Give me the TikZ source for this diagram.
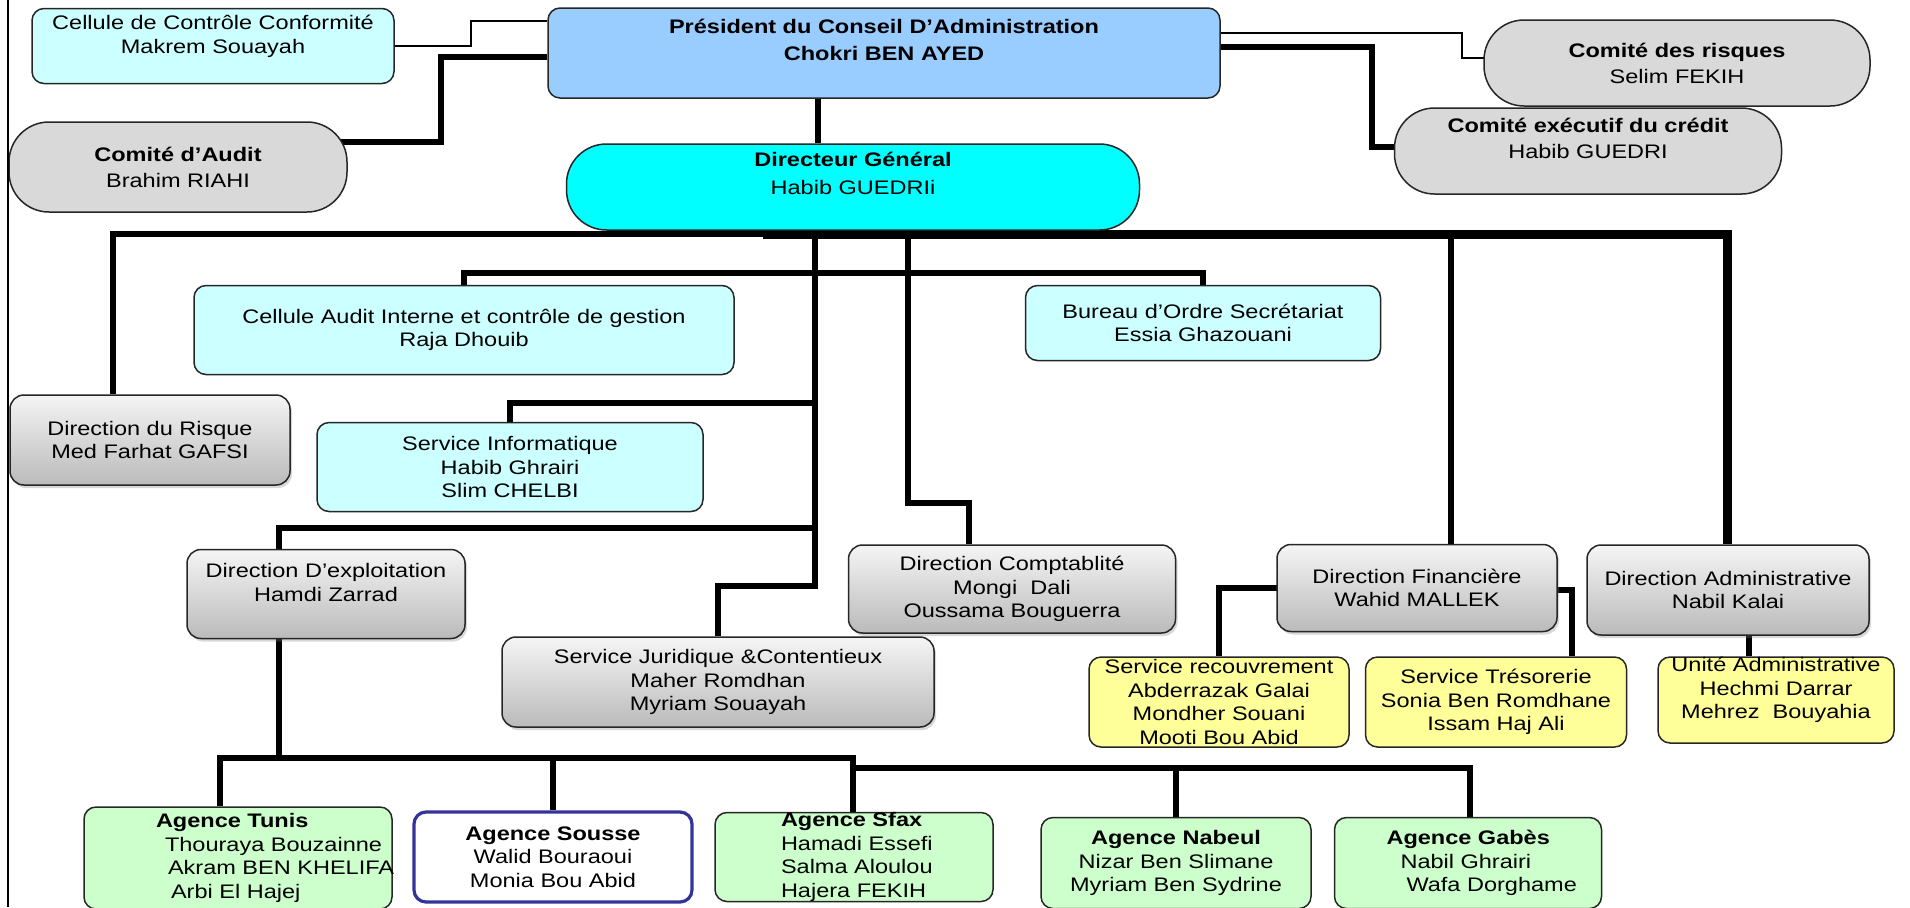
\documentclass[tikz,border=0pt]{standalone}
\usepackage{fontspec}
\setmainfont{Liberation Sans}[FakeStretch=1.2]
\usepackage{tikz}
\usetikzlibrary{shadows}
\definecolor{celluleblue}{HTML}{CCFFFF}
\definecolor{presblue}{HTML}{99CCFF}
\definecolor{dgcyan}{HTML}{00FFFF}
\definecolor{comitegray}{HTML}{D9D9D9}
\definecolor{serviceyellow}{HTML}{FFFF99}
\definecolor{agencegreen}{HTML}{CCFFCC}
\definecolor{sousseblue}{HTML}{333399}
\newlength{\px}
\setlength{\px}{0.5pt}
\pgfdeclarelayer{background}
\pgfsetlayers{background,main}
\tikzstyle{boxstyle}=[draw=black!85, line width=0.75pt, rounded corners=6pt, align=center, inner sep=0pt, font=\fontsize{9.8}{11.75}\selectfont]
\tikzstyle{cellule}=[boxstyle, fill=celluleblue]
\tikzstyle{comite}=[boxstyle, fill=comitegray, rounded corners=20pt, font=\fontsize{9.8}{13}\selectfont]
\tikzstyle{direction}=[boxstyle, rounded corners=7pt, top color=black!4, bottom color=black!27, drop shadow={opacity=0.3, shadow xshift=1pt, shadow yshift=-1.5pt}]
\tikzstyle{service}=[boxstyle, fill=serviceyellow]
\tikzstyle{agence}=[boxstyle, fill=agencegreen]
\tikzstyle{wirestyle}=[draw, line width=3pt]
\tikzstyle{heavywire}=[draw, line width=4.5pt]
\tikzstyle{thinwire}=[draw, line width=0.8pt]
\newcommand{\orgbox}[6]{\node [#2, minimum width=#4\px, minimum height=#5\px] (#1) at (#3) {#6};}
\newcommand{\indline}[2]{\hspace*{#1\px}\mbox{#2}}

\begin{document}
\begin{tikzpicture}[x=0.5pt, y=-0.5pt]
\useasboundingbox (0,0) rectangle (1910,907);
% top: president and committees
\orgbox{ccc}{cellule}{213,46}{362}{75}{Cellule de Contrôle Conformité\\Makrem Souayah\\\mbox{}}
\orgbox{pca}{cellule, fill=presblue, font=\bfseries\fontsize{9.8}{13.5}\selectfont}{884,53}{672}{90}{Président du Conseil D’Administration\\Chokri BEN AYED\\\mbox{}}
\orgbox{audit}{comite}{178,167}{338}{90}{\textbf{Comité d’Audit}\\Brahim RIAHI}
\orgbox{risk}{comite}{1677,63}{386}{86}{\textbf{Comité des risques}\\Selim FEKIH}
\orgbox{exec}{comite}{1588,151}{387}{86}{\textbf{Comité exécutif du crédit}\\Habib GUEDRI\\\mbox{}}
\orgbox{dg}{comite, fill=dgcyan, font=\fontsize{9.8}{14}\selectfont}{853,187}{573}{86}{\textbf{Directeur Général}\\Habib GUEDRIi\\\mbox{}}
% second level
\orgbox{cau}{cellule}{464,330}{540}{89}{Cellule Audit Interne et contrôle de gestion\\Raja Dhouib}
\orgbox{bod}{cellule}{1203,323}{355}{75}{Bureau d’Ordre Secrétariat\\Essia Ghazouani}
\orgbox{risque}{direction}{150,440}{280}{90}{Direction du Risque\\Med Farhat GAFSI}
\orgbox{sinf}{cellule}{510,467}{386}{89}{Service Informatique\\Habib Ghrairi\\Slim CHELBI}
\orgbox{dexp}{direction}{326,594}{278}{89}{Direction D’exploitation\\Hamdi Zarrad\\\mbox{}}
\orgbox{sjur}{direction}{718,682}{432}{90}{Service Juridique \&Contentieux\\Maher Romdhan\\Myriam Souayah}
\orgbox{dcpt}{direction}{1012,589}{327}{88}{Direction Comptablité\\Mongi\ \ Dali\\Oussama Bouguerra}
\orgbox{dfin}{direction}{1417,588}{280}{87}{Direction Financière\\Wahid MALLEK}
\orgbox{dadm}{direction}{1728,590}{282}{90}{Direction Administrative\\Nabil Kalai}
% services
\orgbox{srec}{service}{1219,702}{260}{90}{Service recouvrement\\Abderrazak Galai\\Mondher Souani\\Mooti Bou Abid}
\orgbox{stres}{service}{1496,702}{261}{90}{Service Trésorerie\\Sonia Ben Romdhane\\Issam Haj Ali}
\orgbox{unite}{service}{1776,700}{236}{86}{Unité Administrative\\Hechmi Darrar\\Mehrez\ \ Bouyahia\\\mbox{}}
% agences
\orgbox{atun}{agence, align=left, text width=308\px}{238,858}{308}{102}{\indline{72}{\textbf{Agence Tunis}}\\\indline{81}{Thouraya Bouzainne}\\\indline{84}{Akram BEN KHELIFA}\\\indline{87}{Arbi El Hajej}}
\orgbox{asou}{boxstyle, fill=white, draw=sousseblue, line width=1.6pt}{553,857}{278}{90}{\textbf{Agence Sousse}\\Walid Bouraoui\\Monia Bou Abid}
\orgbox{asfx}{agence, align=left, text width=278\px}{854,857}{278}{89}{\indline{66}{\textbf{Agence Sfax}}\\\indline{66}{Hamadi Essefi}\\\indline{66}{Salma Aloulou}\\\indline{66}{Hajera FEKIH}}
\orgbox{anab}{agence}{1176,863}{270}{91}{\textbf{Agence Nabeul}\\Nizar Ben Slimane\\Myriam Ben Sydrine}
\orgbox{agab}{agence, align=left, text width=267\px}{1468,863}{267}{91}{\indline{52}{\textbf{Agence Gabès}}\\\indline{66}{Nabil Ghrairi}\\\indline{72}{Wafa Dorghame}}
\draw[line width=0.8pt] (8,0) -- (8,907);

\begin{pgfonlayer}{background}
\fill[white] (0,0) rectangle (1910,907);
% board links
\draw[thinwire] (ccc.east) -| (471,21) -- (pca.west |- 0,21);
\draw[wirestyle] (audit.center |- 0,142) -| (441,57) -- (pca.west |- 0,57);
\draw[thinwire] (pca.east |- 0,33) -| (1462,58) -- (risk.center |- 0,58);
\draw[wirestyle] (pca.east |- 0,47) -| (1372,147) -- (exec.center |- 0,147);
\draw[wirestyle] (pca.south -| 818,0) -- (dg.north -| 818,0);
% main bus under DG
\draw[wirestyle] (risque.north -| 113,0) |- (763,234);
\draw[heavywire] (763,234) -- (1727,234) -- (dadm.north -| 1727,0);
\draw[wirestyle] (815,234) |- (sjur.north |- 0,586) -- (sjur.north);
\draw[wirestyle] (cau.north) |- (bod.north |- 0,273) -- (bod.north);
\draw[wirestyle] (sinf.north) |- (815,403);
\draw[wirestyle] (dexp.north -| 279,0) |- (815,528);
\draw[wirestyle] (908,234) |- (969,503) -- (dcpt.north -| 969,0);
\draw[wirestyle] (1451,234) -- (dfin.north -| 1451,0);
\draw[wirestyle] (dfin.center) -| (srec.north);
\draw[wirestyle] (dfin.center |- 0,590) -| (stres.north -| 1572,0);
\draw[wirestyle] (dadm.south -| 1749,0) -- (unite.north -| 1749,0);
% agences
\draw[wirestyle] (dexp.south -| 279,0) -- (279,758);
\draw[wirestyle] (atun.north -| 220,0) |- (853,758) -- (asfx.north -| 853,0);
\draw[wirestyle] (asou.north) -- (asou.north |- 0,758);
\draw[wirestyle] (853,768) -| (agab.north -| 1470,0);
\draw[wirestyle] (anab.north) -- (anab.north |- 0,768);
\end{pgfonlayer}
\end{tikzpicture}
\end{document}
